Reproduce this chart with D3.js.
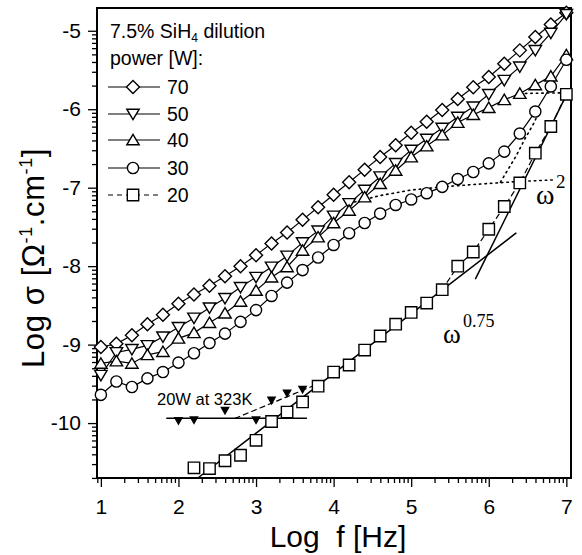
<!DOCTYPE html>
<html><head><meta charset="utf-8">
<script src="https://cdn.jsdelivr.net/npm/d3@7"></script>
<style>body{margin:0;background:#fff}</style>
</head><body>
<svg id="c" width="582" height="555"></svg>
<script>
// ---- data (log10 values) ----
const logF = [1.0,1.2,1.4,1.6,1.8,2.0,2.2,2.4,2.6,2.8,3.0,3.2,3.4,3.6,3.8,4.0,4.2,4.4,4.6,4.8,5.0,5.2,5.4,5.6,5.8,6.0,6.2,6.4,6.6,6.8,7.0];
const s70 = [-9.03,-8.99,-8.88,-8.74,-8.62,-8.48,-8.36,-8.25,-8.13,-8.00,-7.86,-7.71,-7.57,-7.41,-7.25,-7.09,-6.93,-6.77,-6.61,-6.46,-6.30,-6.16,-6.01,-5.87,-5.72,-5.59,-5.42,-5.25,-5.08,-4.92,-4.77];
const s50 = [-9.39,-9.10,-9.06,-9.01,-8.90,-8.78,-8.66,-8.53,-8.41,-8.27,-8.14,-8.01,-7.87,-7.70,-7.55,-7.36,-7.20,-7.03,-6.86,-6.69,-6.52,-6.38,-6.24,-6.10,-5.97,-5.81,-5.63,-5.46,-5.25,-5.03,-4.79];
const s40 = [-9.24,-9.21,-9.24,-9.13,-9.09,-8.92,-8.85,-8.72,-8.60,-8.45,-8.31,-8.14,-8.01,-7.80,-7.63,-7.45,-7.29,-7.12,-6.95,-6.78,-6.61,-6.47,-6.33,-6.17,-6.07,-5.98,-5.88,-5.80,-5.69,-5.58,-5.31];
const s30 = [-9.64,-9.47,-9.54,-9.43,-9.35,-9.23,-9.11,-8.98,-8.86,-8.71,-8.56,-8.38,-8.21,-8.05,-7.89,-7.73,-7.58,-7.45,-7.33,-7.22,-7.15,-7.07,-6.99,-6.89,-6.80,-6.69,-6.54,-6.31,-6.03,-5.71,-5.37];
const logF20 = [2.2,2.4,2.6,2.8,3.0,3.2,3.4,3.6,3.8,4.0,4.2,4.4,4.6,4.8,5.0,5.2,5.4,5.6,5.8,6.0,6.2,6.4,6.6,6.8,7.0];
const s20 = [-10.57,-10.58,-10.48,-10.41,-10.22,-9.98,-9.86,-9.73,-9.53,-9.35,-9.26,-9.07,-8.89,-8.74,-8.59,-8.47,-8.30,-8.00,-7.82,-7.53,-7.24,-6.94,-6.56,-6.22,-5.81];
// 20 W measured at 323 K
const logF323 = [2.0,2.2,2.6,3.0,3.2,3.4,3.6];
const s323 = [-9.97,-9.96,-9.84,-9.96,-9.71,-9.62,-9.57];
const flat323X = [1.85,3.65], flat323Y = [-9.94,-9.94];
const dash323X = [2.73,3.8], dash323Y = [-9.94,-9.50];
// power-law fits
const fit075X = [2.25,6.35], fit075Y = [-10.70,-7.58];
const fit2X = [5.83,7.0], fit2Y = [-8.16,-5.82];
// dotted guide curves
const dotAX = [4.2,4.6,5.0,5.4,5.8,6.1,6.4,6.85], dotAY = [-7.20,-7.10,-7.03,-6.99,-6.96,-6.94,-6.92,-6.90];
const dotBX = [6.15,6.35,6.47,6.58,6.65], dotBY = [-6.93,-6.60,-6.37,-6.18,-6.03];
const dotCX = [6.4,7.0], dotCY = [-5.80,-5.79];
const xTicks = [1,2,3,4,5,6,7];
const yTicks = [-10,-9,-8,-7,-6,-5];
const legendLabels = ["70","50","40","30","20"];

// ---- chart ----
const svg = d3.select("#c");
const x = d3.scaleLinear().domain([0.95,7.06]).range([97,571]);
const y = d3.scaleLinear().domain([-10.7,-4.71]).range([478,8]);
const FONT = "'Liberation Sans', Arial, Helvetica, sans-serif";
const SERIF = "'Liberation Serif', 'Times New Roman', serif";

function minorTicks(lo, hi){
  const out=[];
  for(let n=Math.floor(lo)-1;n<=Math.ceil(hi);n++){
    for(let k=2;k<=9;k++){const v=n+Math.log10(k); if(v>=lo&&v<=hi) out.push(v);}
  }
  return out;
}

// axes
const gx = svg.append("g").attr("transform","translate(0,478)");
gx.call(d3.axisBottom(x).tickValues(xTicks).tickSize(9).tickPadding(12).tickFormat(d3.format("d")));
const gxm = svg.append("g").attr("transform","translate(0,478)");
gxm.call(d3.axisBottom(x).tickValues(minorTicks(0.95,7.06)).tickSize(5).tickFormat(""));
const gy = svg.append("g").attr("transform","translate(97,0)");
gy.call(d3.axisLeft(y).tickValues(yTicks).tickSize(9).tickPadding(7).tickFormat(d3.format("d")));
const gym = svg.append("g").attr("transform","translate(97,0)");
gym.call(d3.axisLeft(y).tickValues(minorTicks(-10.7,-4.71)).tickSize(5).tickFormat(""));
[gx,gxm,gy,gym].forEach(g=>{
  g.select(".domain").remove();
  g.selectAll(".tick line").attr("stroke","#000").attr("stroke-width",1.3);
  g.selectAll("text").attr("font-family",FONT).attr("font-size",21).attr("fill","#000");
});
gy.selectAll("text").text(d=>d<0?"-"+Math.abs(d):d);

// frame
const [x0,x1]=x.range(), [yb,yt]=y.range();
svg.append("rect").attr("x",x0).attr("y",yt).attr("width",x1-x0).attr("height",yb-yt)
  .attr("fill","none").attr("stroke","#000").attr("stroke-width",2);

// axis titles
svg.append("text").attr("x",338).attr("y",547).attr("text-anchor","middle")
  .attr("font-family",FONT).attr("font-size",30).style("white-space","pre")
  .text("Log  f [Hz]");
const yt_ = svg.append("text").attr("transform","translate(44,258) rotate(-90)").attr("text-anchor","middle")
  .attr("font-family",FONT).attr("font-size",31).attr("letter-spacing",0.6);
yt_.append("tspan").text("Log σ [Ω");
yt_.append("tspan").attr("font-size",18).attr("dy",-12).text("-1");
yt_.append("tspan").attr("dy",12).text(".cm");
yt_.append("tspan").attr("font-size",18).attr("dy",-12).text("-1");
yt_.append("tspan").attr("dy",12).text("]");

const plot = svg.append("g");
const line = d3.line().x(d=>x(d[0])).y(d=>y(d[1]));
const zip = (a,b)=>a.map((v,i)=>[v,b[i]]);

// markers
function markerPath(type, cx, cy){
  switch(type){
    case "diamond": return `M${cx},${cy-6.5}L${cx+6.5},${cy}L${cx},${cy+6.5}L${cx-6.5},${cy}Z`;
    case "down": return `M${cx-6.2},${cy-4.8}L${cx+6.2},${cy-4.8}L${cx},${cy+5.6}Z`;
    case "up": return `M${cx-6.2},${cy+4.8}L${cx+6.2},${cy+4.8}L${cx},${cy-5.6}Z`;
    case "circle": return `M${cx+5.6},${cy}A5.6,5.6 0 1,1 ${cx-5.6},${cy}A5.6,5.6 0 1,1 ${cx+5.6},${cy}Z`;
    case "square": return `M${cx-5.7},${cy-5.7}h11.4v11.4h-11.4Z`;
    case "smalldown": return `M${cx-3.6},${cy-3}L${cx+3.6},${cy-3}L${cx},${cy+3.4}Z`;
  }
}
function drawMarkers(pts, type, filled){
  plot.append("g").selectAll("path").data(pts).join("path")
    .attr("d",d=>markerPath(type,x(d[0]),y(d[1])))
    .attr("fill",filled?"#000":"#fff").attr("stroke","#000").attr("stroke-width",1.4);
}
function drawLine(pts, dash, w){
  plot.append("path").attr("d",line(pts)).attr("fill","none").attr("stroke","#000")
    .attr("stroke-width",w||1.2).attr("stroke-dasharray",dash||null).attr("stroke-linecap","round");
}

// fit and guide lines
drawLine(zip(fit075X,fit075Y),null,1.5);
drawLine(zip(fit2X,fit2Y),null,1.5);
drawLine(zip(flat323X,flat323Y),null,1.5);
drawLine(zip(dash323X,dash323Y),"5,4",1.2);
drawLine(zip(dotAX,dotAY),"1.5,4",1.6);
drawLine(zip(dotBX,dotBY),"1.5,4",1.6);
drawLine(zip(dotCX,dotCY),"1.5,4",1.6);

const series = [
  {pts:zip(logF,s70), type:"diamond"},
  {pts:zip(logF,s50), type:"down"},
  {pts:zip(logF,s40), type:"up"},
  {pts:zip(logF,s30), type:"circle"},
];
series.forEach(s=>drawLine(s.pts));
const p20 = zip(logF20,s20);
drawLine(p20.slice(16),"5,4",1.2);
series.forEach(s=>drawMarkers(s.pts,s.type));
drawMarkers(p20,"square");
drawMarkers(zip(logF323,s323),"smalldown",true);

// annotations
svg.append("text").attr("x",157).attr("y",405).attr("font-family",FONT).attr("font-size",16.5).text("20W at 323K");
svg.append("text").attr("x",536).attr("y",204).attr("font-family",SERIF).attr("font-size",28).text("ω");
svg.append("text").attr("x",556).attr("y",188).attr("font-family",SERIF).attr("font-size",19).text("2");
svg.append("text").attr("x",443).attr("y",343).attr("font-family",SERIF).attr("font-size",27).text("ω");
svg.append("text").attr("x",463).attr("y",327).attr("font-family",SERIF).attr("font-size",18).text("0.75");

// legend
const lg = svg.append("g").attr("font-family",FONT).attr("font-size",19.5);
const h1 = lg.append("text").attr("x",110).attr("y",38);
h1.append("tspan").text("7.5% SiH");
h1.append("tspan").attr("font-size",12).attr("dy",4).text("4");
h1.append("tspan").attr("dy",-4).text(" dilution");
lg.append("text").attr("x",110).attr("y",65).text("power [W]:");
const legTypes = ["diamond","down","up","circle","square"];
const legY = [87,114,140,168,195];
legendLabels.forEach((lab,i)=>{
  const yy = legY[i];
  lg.append("line").attr("x1",108).attr("x2",160).attr("y1",yy).attr("y2",yy)
    .attr("stroke","#000").attr("stroke-width",1.2).attr("stroke-dasharray",i===4?"5,4":null);
  lg.append("path").attr("d",markerPath(legTypes[i],133,yy)).attr("fill","#fff").attr("stroke","#000").attr("stroke-width",1.4);
  lg.append("text").attr("x",167).attr("y",yy+7).text(lab);
});
</script>
</body></html>
